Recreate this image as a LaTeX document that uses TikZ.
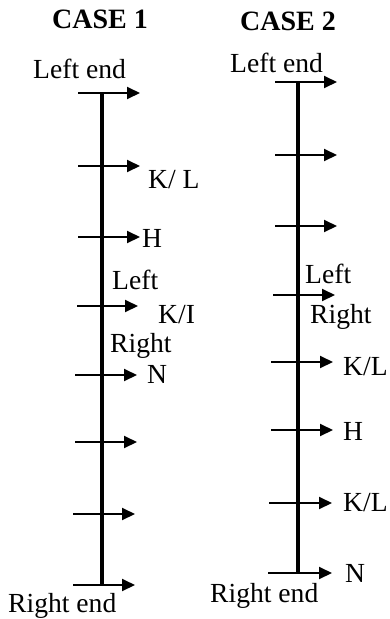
\documentclass[tikz,border=0pt]{standalone}
\usepackage{fontspec}
\setmainfont{Liberation Serif}
\usetikzlibrary{arrows.meta}
\begin{document}
\begin{tikzpicture}[x=1pt,y=-1pt,
  txt/.style={anchor=base west,inner sep=0pt,font=\fontsize{27.6}{30}\selectfont},
  ttl/.style={anchor=base west,inner sep=0pt,font=\fontsize{28}{30}\selectfont\bfseries},
  axisline/.style={line width=3.2pt},
  arr/.style={line width=2pt,-{Triangle[length=13pt,width=12pt]}}]
\useasboundingbox (0,0) rectangle (390,619);

% ---------- CASE 1 ----------
\node[ttl] (t1) at (52,28) {CASE 1};
\node[txt] (le1) at (33,78) {Left end};
\coordinate (v1t) at (102,93);
\coordinate (v1b) at (102,585);
\draw[axisline] (v1t) -- (v1b);

\coordinate (a1s) at (78,93);  \coordinate (a1e) at (140,93);
\coordinate (a2s) at (78,166); \coordinate (a2e) at (140,166);
\coordinate (a3s) at (78,237); \coordinate (a3e) at (140,237);
\coordinate (a4s) at (77,306); \coordinate (a4e) at (138,306);
\coordinate (a5s) at (75,375); \coordinate (a5e) at (137,375);
\coordinate (a6s) at (75,442); \coordinate (a6e) at (137,442);
\coordinate (a7s) at (73,514); \coordinate (a7e) at (135,514);
\coordinate (a8s) at (73,585); \coordinate (a8e) at (135,585);
\foreach \i in {1,...,8} {\draw[arr] (a\i s) -- (a\i e);}

\node[txt] (kl1) at (148,188) {K/ L};
\node[txt] (h1) at (142,247) {H};
\node[txt] (l1) at (112,289) {Left};
\node[txt] (ki1) at (158,323) {K/I};
\node[txt] (r1) at (110,352) {Right};
\node[txt] (n1) at (147,383) {N};
\node[txt] (re1) at (8,612) {Right end};

% ---------- CASE 2 ----------
\node[ttl] (t2) at (240,30) {CASE 2};
\node[txt] (le2) at (230,72) {Left end};
\coordinate (v2t) at (298,82);
\coordinate (v2b) at (298,573);
\draw[axisline] (v2t) -- (v2b);

\coordinate (b1s) at (275,82);  \coordinate (b1e) at (337,82);
\coordinate (b2s) at (275,155); \coordinate (b2e) at (337,155);
\coordinate (b3s) at (275,226); \coordinate (b3e) at (337,226);
\coordinate (b4s) at (273,295); \coordinate (b4e) at (335,295);
\coordinate (b5s) at (271,362); \coordinate (b5e) at (333,362);
\coordinate (b6s) at (271,430); \coordinate (b6e) at (333,430);
\coordinate (b7s) at (269,503); \coordinate (b7e) at (332,503);
\coordinate (b8s) at (268,573); \coordinate (b8e) at (332,573);
\foreach \i in {1,...,8} {\draw[arr] (b\i s) -- (b\i e);}

\node[txt] (l2) at (305,283) {Left};
\node[txt] (r2) at (310,323) {Right};
\node[txt] (kl2a) at (343,375) {K/L};
\node[txt] (h2) at (343,440) {H};
\node[txt] (kl2b) at (343,511) {K/L};
\node[txt] (n2) at (345,582) {N};
\node[txt] (re2) at (210,602) {Right end};
\end{tikzpicture}
\end{document}
